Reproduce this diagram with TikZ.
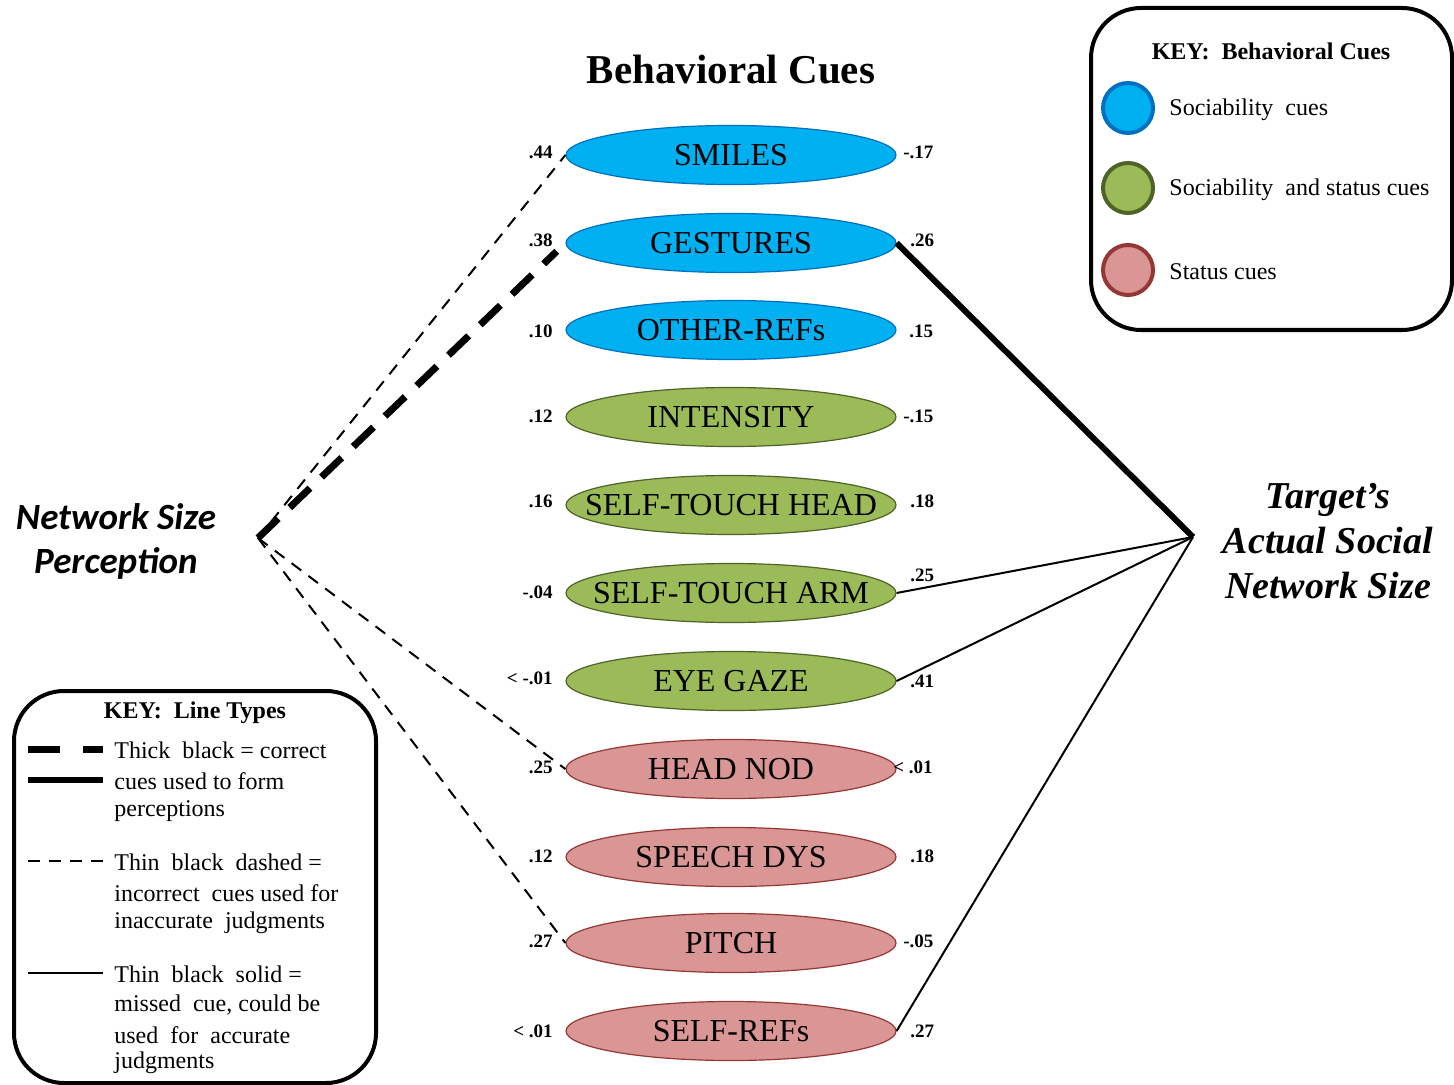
\documentclass[tikz,border=0pt]{standalone}
\usepackage{fontspec}
\setmainfont{Liberation Serif}
\newfontfamily\calib{Carlito}
\usetikzlibrary{shapes.geometric}
\definecolor{cblue}{HTML}{00B0F0}
\definecolor{cblueb}{HTML}{0070C0}
\definecolor{cgreen}{HTML}{9BBB59}
\definecolor{cgreenb}{HTML}{4F6228}
\definecolor{cred}{HTML}{D99694}
\definecolor{credb}{HTML}{953735}
\newcommand\cuetext[1]{\makebox[0pt][c]{#1}}
\tikzset{
  cue/.style={ellipse, minimum width=165pt, minimum height=29.5pt, inner sep=0pt, line width=0.6pt, font=\fontsize{16}{19}\selectfont},
  sblue/.style={cue, fill=cblue, draw=cblueb},
  sgreen/.style={cue, fill=cgreen, draw=cgreenb},
  sred/.style={cue, fill=cred, draw=credb},
  num/.style={font=\bfseries\fontsize{9.5}{11}\selectfont, inner sep=0pt},
  lnum/.style={num, anchor=east},
  rnum/.style={num, anchor=west},
  thinsolid/.style={line width=1pt},
  thindash/.style={line width=1pt, dash pattern=on 6pt off 4.5pt},
  thicksolid/.style={line width=3pt},
  thickdash/.style={line width=3.5pt, dash pattern=on 14pt off 8pt},
  keybox/.style={line width=2pt, rounded corners=25pt},
  keytext/.style={font=\fontsize{12}{15}\selectfont, anchor=west, inner sep=0pt},
  keytitle/.style={font=\bfseries\fontsize{12}{15}\selectfont, inner sep=0pt},
  keydot/.style={circle, minimum size=25pt, inner sep=0pt, line width=2pt}
}
\begin{document}
\begin{tikzpicture}[x=0.5pt,y=-0.5pt]
\useasboundingbox (0,0) rectangle (1454,1085);

% title
\node[font=\bfseries\fontsize{20.5}{24}\selectfont] (title) at (731,70) {Behavioral Cues};

% cue ellipses
\node[sblue]  (e1)  at (731,155)  {\cuetext{SMILES}};
\node[sblue]  (e2)  at (731,243)  {\cuetext{GESTURES}};
\node[sblue]  (e3)  at (731,330)  {\cuetext{OTHER-REFs}};
\node[sgreen] (e4)  at (731,417)  {\cuetext{INTENSITY}};
\node[sgreen] (e5)  at (731,505)  {\cuetext{SELF-TOUCH HEAD}};
\node[sgreen] (e6)  at (731,593)  {\cuetext{SELF-TOUCH ARM}};
\node[sgreen] (e7)  at (731,681)  {\cuetext{EYE GAZE}};
\node[sred]   (e8)  at (731,769)  {\cuetext{HEAD NOD}};
\node[sred]   (e9)  at (731,857)  {\cuetext{SPEECH DYS}};
\node[sred]   (e10) at (731,943)  {\cuetext{PITCH}};
\node[sred]   (e11) at (731,1031) {\cuetext{SELF-REFs}};

% left / right constructs
\node[font=\calib\bfseries\itshape\fontsize{18.5}{22}\selectfont, align=center] (np) at (116,541) {Network Size\\Perception};
\node[font=\bfseries\itshape\fontsize{19}{22.5}\selectfont, align=center] (tn) at (1328,541) {Target's\\Actual Social\\Network Size};
\coordinate (L) at (258,538);
\coordinate (R) at (1193,537);

% connectors
\draw[thindash] (L) -- (e1.west);
\draw[thickdash, shorten >=6pt] (L) -- (e2.west);
\draw[thindash] (L) -- (e8.west);
\draw[thindash] (L) -- (e10.west);
\draw[thicksolid] (R) -- (e2.east);
\draw[thinsolid] (R) -- (e6.east);
\draw[thinsolid] (R) -- (e7.east);
\draw[thinsolid] (R) -- (e11.east);

% left numbers
\node[lnum] (l1)  at (553,152)  {.44};
\node[lnum] (l2)  at (553,240)  {.38};
\node[lnum] (l3)  at (553,331)  {.10};
\node[lnum] (l4)  at (553,416)  {.12};
\node[lnum] (l5)  at (553,501)  {.16};
\node[lnum] (l6)  at (553,592)  {-.04};
\node[lnum] (l7)  at (553,678)  {<~-.01};
\node[lnum] (l8)  at (553,767)  {.25};
\node[lnum] (l9)  at (553,856)  {.12};
\node[lnum] (l10) at (553,941)  {.27};
\node[lnum] (l11) at (553,1031) {<~.01};

% right numbers
\node[rnum] (r1)  at (903,152)  {-.17};
\node[rnum] (r2)  at (910,240)  {.26};
\node[rnum] (r3)  at (909,331)  {.15};
\node[rnum] (r4)  at (903,416)  {-.15};
\node[rnum] (r5)  at (910,501)  {.18};
\node[rnum] (r6)  at (910,575)  {.25};
\node[rnum] (r7)  at (910,681)  {.41};
\node[rnum] (r8)  at (893,767)  {<~.01};
\node[rnum] (r9)  at (910,856)  {.18};
\node[rnum] (r10) at (903,941)  {-.05};
\node[rnum] (r11) at (910,1031) {.27};

% key: behavioral cues
\draw[keybox] (1091,8) rectangle (1452,330);
\node[keytitle] (kt1) at (1271,51) {KEY:\ \ Behavioral Cues};
\node[keydot, fill=cblue, draw=cblueb]  (d1) at (1128,108) {};
\node[keydot, fill=cgreen, draw=cgreenb] (d2) at (1128,188) {};
\node[keydot, fill=cred, draw=credb]    (d3) at (1128,270) {};
\node[keytext] (kd1) at (1169,110) {Sociability\ \ cues};
\node[keytext] (kd2) at (1169,190) {Sociability\ \ and status cues};
\node[keytext] (kd3) at (1169,272) {Status cues};

% key: line types
\draw[keybox] (14,691) rectangle (376,1083);
\node[keytitle] (kt2) at (195,713) {KEY:\ \ Line Types};
\coordinate (a1) at (28,749);  \coordinate (b1) at (103,749);
\coordinate (a2) at (28,780);  \coordinate (b2) at (103,780);
\coordinate (a3) at (28,861);  \coordinate (b3) at (103,861);
\coordinate (a4) at (28,973);  \coordinate (b4) at (103,973);
\draw[line width=3.5pt, dash pattern=on 16pt off 11.5pt] (a1) -- (b1);
\draw[thicksolid] (a2) -- (b2);
\draw[line width=1pt, dash pattern=on 6pt off 4.5pt] (a3) -- (b3);
\draw[thinsolid] (a4) -- (b4);
\node[keytext] (k1)  at (114,750)  {Thick\ \ black = correct};
\node[keytext] (k2)  at (114,781)  {cues used to form};
\node[keytext] (k3)  at (114,811)  {perceptions};
\node[keytext] (k4)  at (114,862)  {Thin\ \ black\ \ dashed =};
\node[keytext] (k5)  at (114,893)  {incorrect\ \ cues used for};
\node[keytext] (k6)  at (114,923)  {inaccurate\ \ judgments};
\node[keytext] (k7)  at (114,974)  {Thin\ \ black\ \ solid =};
\node[keytext] (k8)  at (114,1005) {missed\ \ cue, could be};
\node[keytext] (k9)  at (114,1035) {used\ \ for\ \ accurate};
\node[keytext] (k10) at (114,1063) {judgments};
\end{tikzpicture}
\end{document}
